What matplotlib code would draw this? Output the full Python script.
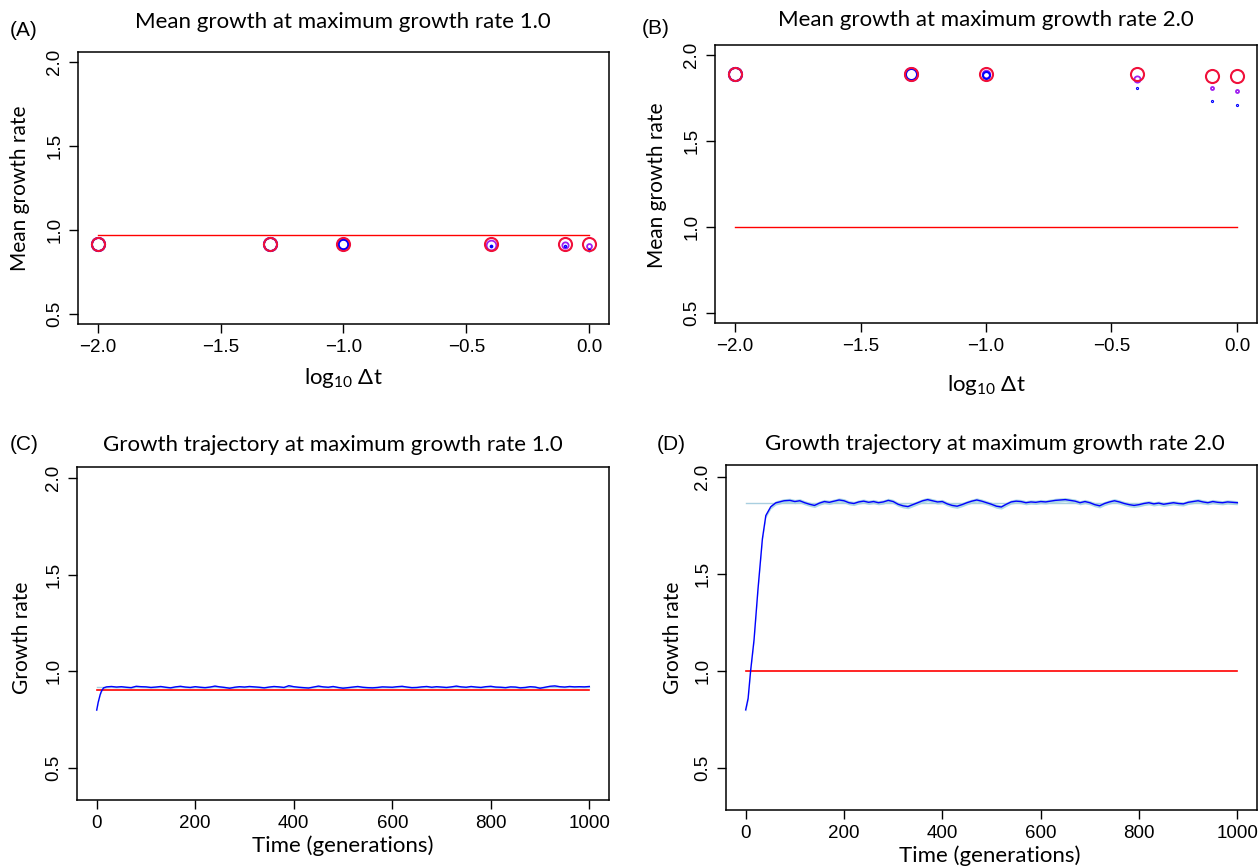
import numpy as np
import matplotlib
matplotlib.use('Agg')
import matplotlib.pyplot as plt

# ---- data ----
log_dt = [-2.0, -1.3, -1.0, -0.4, -0.1, 0.0]

# panel A (max growth rate 1.0)
a_red = [0.917, 0.917, 0.917, 0.917, 0.917, 0.917]
a_purple = [0.917, 0.917, 0.917, 0.913, 0.910, 0.905]
a_blue = [0.917, 0.917, 0.917, 0.905, 0.905, 0.882]
a_ref = 0.97

# panel B (max growth rate 2.0)
b_red = [1.89, 1.89, 1.89, 1.89, 1.882, 1.882]
b_purple = [1.89, 1.89, 1.89, 1.862, 1.812, 1.792]
b_blue = [1.89, 1.89, 1.887, 1.812, 1.735, 1.712]
b_ref = 1.0

# panel C trajectory
c_t = [0, 3, 7, 10, 14] + list(range(20, 1001, 10))
c_val = [0.80, 0.84, 0.88, 0.90, 0.915,
         0.920, 0.922, 0.919, 0.921, 0.918, 0.916, 0.923, 0.921, 0.920, 0.917,
         0.919, 0.922, 0.918, 0.915, 0.920, 0.923, 0.919, 0.917, 0.921, 0.918,
         0.916, 0.919, 0.924, 0.920, 0.917, 0.913, 0.918, 0.921, 0.919, 0.922,
         0.920, 0.918, 0.915, 0.919, 0.922, 0.920, 0.917, 0.926, 0.921, 0.918,
         0.916, 0.914, 0.919, 0.924, 0.920, 0.918, 0.922, 0.917, 0.913, 0.916,
         0.919, 0.922, 0.918, 0.916, 0.915, 0.917, 0.920, 0.919, 0.918, 0.921,
         0.923, 0.919, 0.916, 0.917, 0.920, 0.922, 0.918, 0.921, 0.919, 0.917,
         0.920, 0.924, 0.920, 0.918, 0.922, 0.919, 0.917, 0.921, 0.923, 0.919,
         0.918, 0.916, 0.920, 0.919, 0.915, 0.917, 0.921, 0.919, 0.913, 0.918,
         0.923, 0.925, 0.921, 0.919, 0.922, 0.920, 0.921, 0.920, 0.922]
c_sd = 0.005
c_target = 0.905
c_mean = 0.92

# panel D trajectory
d_t = [0, 5, 10, 17, 25, 34, 41, 51, 61, 78] + list(range(90, 1001, 10))
d_val = [0.80, 0.86, 1.00, 1.16, 1.42, 1.68, 1.80, 1.845, 1.865, 1.876,
         1.878, 1.872, 1.876, 1.866, 1.858, 1.852, 1.864, 1.872, 1.868, 1.874,
         1.880, 1.876, 1.866, 1.862, 1.870, 1.874, 1.868, 1.872, 1.866, 1.870,
         1.878, 1.872, 1.858, 1.850, 1.846, 1.856, 1.866, 1.876, 1.882, 1.876,
         1.870, 1.872, 1.860, 1.852, 1.848, 1.856, 1.866, 1.874, 1.880, 1.874,
         1.866, 1.858, 1.848, 1.844, 1.858, 1.870, 1.874, 1.872, 1.866, 1.870,
         1.868, 1.872, 1.870, 1.874, 1.878, 1.880, 1.882, 1.878, 1.874, 1.866,
         1.872, 1.866, 1.856, 1.850, 1.862, 1.870, 1.876, 1.870, 1.862, 1.856,
         1.852, 1.856, 1.862, 1.866, 1.860, 1.864, 1.858, 1.862, 1.866, 1.862,
         1.860, 1.868, 1.872, 1.876, 1.870, 1.866, 1.872, 1.868, 1.866, 1.870,
         1.868, 1.866]
d_sd = 0.011
d_target = 1.0
d_mean = 1.867

# marker sizes (points) for the three series in A and B
red_ms = [9.4, 9.4, 9.4, 9.4, 9.4, 9.4]
a_purple_ms = [9.4, 9.4, 7.0, 7.0, 4.5, 3.5]
a_blue_ms = [9.4, 9.4, 7.0, 1.2, 1.0, 1.2]
b_purple_ms = [9.4, 9.4, 5.5, 4.5, 2.2, 2.2]
b_blue_ms = [9.4, 8.0, 5.0, 0.8, 0.8, 0.8]

W, H = 1260, 868
fig = plt.figure(figsize=(W / 100, H / 100), dpi=100)
TICKFONT = ['Liberation Sans', 'DejaVu Sans']
LABFONT = ['Lato', 'DejaVu Sans']


def rect(l, t, r, b):
    return [l / W, 1 - b / H, (r - l) / W, (b - t) / H]


def px(x, y):
    return x / W, 1 - y / H


def style(ax, xticks, xlabels):
    ax.set_xticks(xticks)
    ax.set_xticklabels(xlabels, family=TICKFONT, fontsize=13.5)
    ax.set_yticks([0.5, 1.0, 1.5, 2.0])
    ax.set_yticklabels(['0.5', '1.0', '1.5', '2.0'], family=TICKFONT,
                       fontsize=13.5, rotation=90, va='center')
    ax.tick_params(direction='out', length=6.5, width=1, pad=4)
    for s in ax.spines.values():
        s.set_linewidth(1.1)


def dots(ax, y, ms, color, mew):
    for x, v, m in zip(log_dt, y, ms):
        ax.plot(x, v, 'o', mfc='none', mec=color, ms=m, mew=mew)


dt_ticks = [-2.0, -1.5, -1.0, -0.5, 0.0]
dt_labels = ['\u22122.0', '\u22121.5', '\u22121.0', '\u22120.5', '0.0']

# (A)
axA = fig.add_axes(rect(78, 52, 609, 324))
axA.plot([-2.0, 0.0], [a_ref, a_ref], color='red', lw=1)
dots(axA, a_purple, a_purple_ms, '#a020f0', 1.3)
dots(axA, a_blue, a_blue_ms, 'blue', 1.5)
dots(axA, a_red, red_ms, '#f0103a', 1.5)
axA.set_xlim(-2.08, 0.08)
axA.set_ylim(0.44, 2.06)
style(axA, dt_ticks, dt_labels)

# (B)
axB = fig.add_axes(rect(715, 45, 1257, 323))
axB.plot([-2.0, 0.0], [b_ref, b_ref], color='red', lw=1)
dots(axB, b_purple, b_purple_ms, '#a020f0', 1.3)
dots(axB, b_blue, b_blue_ms, 'blue', 1.5)
dots(axB, b_red, red_ms, '#f0103a', 1.5)
axB.set_xlim(-2.08, 0.08)
axB.set_ylim(0.44, 2.06)
style(axB, dt_ticks, dt_labels)

t_ticks = [0, 200, 400, 600, 800, 1000]
t_labels = [str(t) for t in t_ticks]

# (C)
axC = fig.add_axes(rect(77, 467, 609, 800))
cv = np.array(c_val)
axC.plot([0, 1000], [c_mean, c_mean], color='#a9cfe0', lw=1)
axC.fill_between(c_t, cv - c_sd, cv + c_sd, color='#add8e6', lw=0)
axC.plot([0, 1000], [c_target, c_target], color='red', lw=1.2)
axC.plot(c_t, cv, color='blue', lw=1)
axC.set_xlim(-40, 1040)
axC.set_ylim(0.335, 2.057)
style(axC, t_ticks, t_labels)

# (D)
axD = fig.add_axes(rect(726, 465, 1257, 810))
dv = np.array(d_val)
axD.plot([0, 1000], [d_mean, d_mean], color='#a9cfe0', lw=1)
axD.fill_between(d_t, dv - d_sd, dv + d_sd, color='#add8e6', lw=0)
axD.plot([0, 1000], [d_target, d_target], color='red', lw=1.2)
axD.plot(d_t, dv, color='blue', lw=1)
axD.set_xlim(-40, 1040)
axD.set_ylim(0.285, 2.06)
style(axD, t_ticks, t_labels)

# titles, axis labels, panel letters
titles = [(343, 22, 'Mean growth at maximum growth rate 1.0'),
          (986, 20, 'Mean growth at maximum growth rate 2.0'),
          (333, 445, 'Growth trajectory at maximum growth rate 1.0'),
          (995, 444, 'Growth trajectory at maximum growth rate 2.0')]
for x, y, s in titles:
    fig.text(*px(x, y), s, family=LABFONT, fontsize=16, ha='center', va='center')

for x, y, s in [(24, 31, '(A)'), (656, 29, '(B)'), (24, 444, '(C)'), (671, 444, '(D)')]:
    fig.text(*px(x, y), s, family=TICKFONT, fontsize=15, ha='center', va='center')

for x, y, s in [(20, 188, 'Mean growth rate'), (657, 185, 'Mean growth rate'),
                (22, 638, 'Growth rate'), (673, 638, 'Growth rate')]:
    fig.text(*px(x, y), s, family=LABFONT, fontsize=15, rotation=90,
             ha='center', va='center')

dt_lab = r'$\mathregular{log_{10}}$ $\mathregular{\Delta t}$'
for x, y, s in [(343, 378, dt_lab), (986, 385, dt_lab),
                (343, 846, 'Time (generations)'), (990, 856, 'Time (generations)')]:
    fig.text(*px(x, y), s, family=LABFONT, fontsize=16, ha='center', va='center')

fig.savefig('out.png', dpi=100)
